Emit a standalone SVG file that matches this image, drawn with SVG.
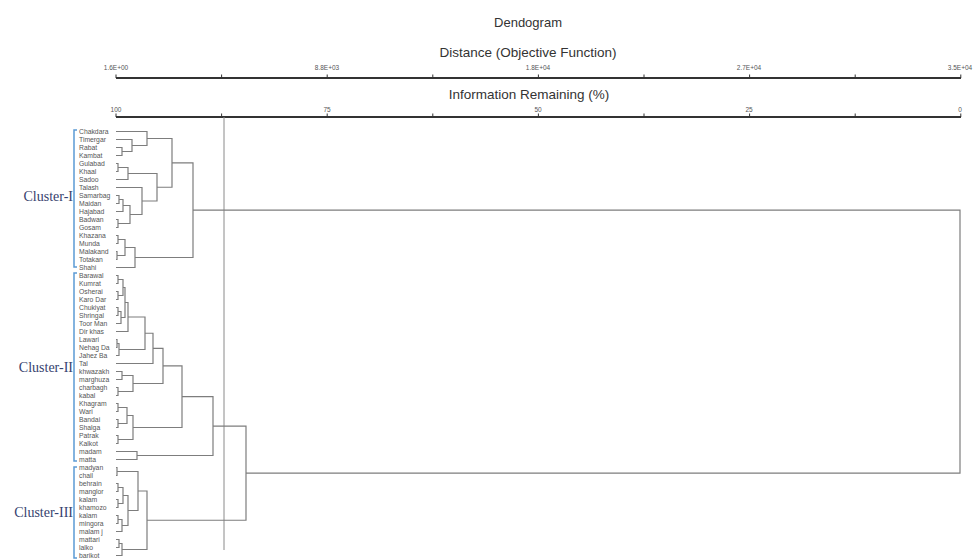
<svg xmlns="http://www.w3.org/2000/svg" width="978" height="560" viewBox="0 0 978 560">
<style>
.bg{fill:#fff}
.tt{font-family:"Liberation Sans",Arial,sans-serif;fill:#333;text-anchor:middle}
.tk{font-family:"Liberation Sans",Arial,sans-serif;font-size:6.5px;fill:#555;text-anchor:middle}
.lf{font-family:"Liberation Sans",Arial,sans-serif;font-size:6.8px;fill:#555}
.cn{fill:none;stroke:#7d7d7d;stroke-width:1.2}
.ax{fill:none;stroke:#333;stroke-width:2}
.tc{fill:none;stroke:#333;stroke-width:1}
.cut{fill:none;stroke:#8a8a8a;stroke-width:1}
.cl{font-family:"Liberation Serif","Times New Roman",serif;font-size:14px;fill:#36426e;text-anchor:end}
.br{fill:none;stroke:#5b9bd5;stroke-width:1.5}
</style>
<rect class="bg" x="0" y="0" width="978" height="560"/>
<g id="titles">
<text class="tt" x="528" y="27" font-size="13">Dendogram</text>
<text class="tt" x="528" y="57" font-size="13.5">Distance (Objective Function)</text>
<text class="tt" x="529" y="99" font-size="13.5">Information Remaining (%)</text>
</g>
<g id="axis-distance">
<path class="ax" d="M116 78 H961"/>
<path class="tc" d="M116 78V74.5M221.6 78V74.5M327.2 78V74.5M432.8 78V74.5M538.4 78V74.5M644 78V74.5M749.6 78V74.5M855.2 78V74.5M960.8 78V74.5"/>
<text class="tk" x="116" y="70">1.6E+00</text>
<text class="tk" x="327" y="70">8.8E+03</text>
<text class="tk" x="538" y="70">1.8E+04</text>
<text class="tk" x="749" y="70">2.7E+04</text>
<text class="tk" x="960" y="70">3.5E+04</text>
</g>
<g id="axis-info">
<path class="ax" d="M116 117 H961"/>
<path class="tc" d="M116 117V113.5M221.6 117V113.5M327.2 117V113.5M432.8 117V113.5M538.4 117V113.5M644 117V113.5M749.6 117V113.5M855.2 117V113.5M960.8 117V113.5"/>
<text class="tk" x="116" y="112">100</text>
<text class="tk" x="327" y="112">75</text>
<text class="tk" x="538" y="112">50</text>
<text class="tk" x="749" y="112">25</text>
<text class="tk" x="960" y="112">0</text>
</g>
<g id="cut-line"><path class="cut" d="M224 117 V550"/></g>
<g id="clusters">
<path class="br" d="M77 130 H74 V267 H77"/>
<path class="br" d="M77 273 H74 V461 H77"/>
<path class="br" d="M77 467 H74 V558 H77"/>
<text class="cl" x="73" y="201">Cluster-I</text>
<text class="cl" x="73" y="372">Cluster-II</text>
<text class="cl" x="73" y="517">Cluster-III</text>
</g>
<g id="leaves">
<g id="n0"><text class="lf" x="79" y="133.8">Chakdara</text></g>
<g id="n1"><text class="lf" x="79" y="141.8">Timergar</text></g>
<g id="n2"><text class="lf" x="79" y="149.8">Rabat</text></g>
<g id="n3"><text class="lf" x="79" y="157.8">Kambat</text></g>
<g id="n4"><text class="lf" x="79" y="165.8">Gulabad</text></g>
<g id="n5"><text class="lf" x="79" y="173.8">Khaal</text></g>
<g id="n6"><text class="lf" x="79" y="181.8">Sadoo</text></g>
<g id="n7"><text class="lf" x="79" y="189.8">Talash</text></g>
<g id="n8"><text class="lf" x="79" y="197.8">Samarbag</text></g>
<g id="n9"><text class="lf" x="79" y="205.8">Maidan</text></g>
<g id="n10"><text class="lf" x="79" y="213.8">Hajabad</text></g>
<g id="n11"><text class="lf" x="79" y="221.8">Badwan</text></g>
<g id="n12"><text class="lf" x="79" y="229.8">Gosam</text></g>
<g id="n13"><text class="lf" x="79" y="237.8">Khazana</text></g>
<g id="n14"><text class="lf" x="79" y="245.8">Munda</text></g>
<g id="n15"><text class="lf" x="79" y="253.8">Malakand</text></g>
<g id="n16"><text class="lf" x="79" y="261.8">Totakan</text></g>
<g id="n17"><text class="lf" x="79" y="269.8">Shahi</text></g>
<g id="n18"><text class="lf" x="79" y="277.8">Barawal</text></g>
<g id="n19"><text class="lf" x="79" y="285.8">Kumrat</text></g>
<g id="n20"><text class="lf" x="79" y="293.8">Osherai</text></g>
<g id="n21"><text class="lf" x="79" y="301.8">Karo Dar</text></g>
<g id="n22"><text class="lf" x="79" y="309.8">Chukiyat</text></g>
<g id="n23"><text class="lf" x="79" y="317.8">Shringal</text></g>
<g id="n24"><text class="lf" x="79" y="325.8">Toor Man</text></g>
<g id="n25"><text class="lf" x="79" y="333.8">Dir khas</text></g>
<g id="n26"><text class="lf" x="79" y="341.8">Lawari</text></g>
<g id="n27"><text class="lf" x="79" y="349.8">Nehag Da</text></g>
<g id="n28"><text class="lf" x="79" y="357.8">Jahez Ba</text></g>
<g id="n29"><text class="lf" x="79" y="365.8">Tal</text></g>
<g id="n30"><text class="lf" x="79" y="373.8">khwazakh</text></g>
<g id="n31"><text class="lf" x="79" y="381.8">marghuza</text></g>
<g id="n32"><text class="lf" x="79" y="389.8">charbagh</text></g>
<g id="n33"><text class="lf" x="79" y="397.8">kabal</text></g>
<g id="n34"><text class="lf" x="79" y="405.8">Khagram</text></g>
<g id="n35"><text class="lf" x="79" y="413.8">Wari</text></g>
<g id="n36"><text class="lf" x="79" y="421.8">Bandai</text></g>
<g id="n37"><text class="lf" x="79" y="429.8">Shalga</text></g>
<g id="n38"><text class="lf" x="79" y="437.8">Patrak</text></g>
<g id="n39"><text class="lf" x="79" y="445.8">Kalkot</text></g>
<g id="n40"><text class="lf" x="79" y="453.8">madam</text></g>
<g id="n41"><text class="lf" x="79" y="461.8">matta</text></g>
<g id="n42"><text class="lf" x="79" y="469.8">madyan</text></g>
<g id="n43"><text class="lf" x="79" y="477.8">chail</text></g>
<g id="n44"><text class="lf" x="79" y="485.8">behrain</text></g>
<g id="n45"><text class="lf" x="79" y="493.8">manglor</text></g>
<g id="n46"><text class="lf" x="79" y="501.8">kalam</text></g>
<g id="n47"><text class="lf" x="79" y="509.8">khamozo</text></g>
<g id="n48"><text class="lf" x="79" y="517.8">kalam</text></g>
<g id="n49"><text class="lf" x="79" y="525.8">mingora</text></g>
<g id="n50"><text class="lf" x="79" y="533.8">malam j</text></g>
<g id="n51"><text class="lf" x="79" y="541.8">mattari</text></g>
<g id="n52"><text class="lf" x="79" y="549.8">lalko</text></g>
<g id="n53"><text class="lf" x="79" y="557.8">barikot</text></g>
</g>
<g id="connectors" class="cn">
<path d="M116 147.5H122V155.5H116"/>
<path d="M116 139.5H132V151.5H122"/>
<path d="M116 131.5H147V145.5H132"/>
<path d="M116 163.5H118V171.5H116"/>
<path d="M118 167.5H128V179.5H116"/>
<path d="M116 195.5H119V203.5H116"/>
<path d="M119 199.5H123V211.5H116"/>
<path d="M116 219.5H118V227.5H116"/>
<path d="M123 205.5H130V223.5H118"/>
<path d="M116 187.5H142V214.5H130"/>
<path d="M128 173.5H157V201H142"/>
<path d="M147 138.5H172V187.25H157"/>
<path d="M116 235.5H118V243.5H116"/>
<path d="M116 251.5H117V259.5H116"/>
<path d="M118 239.5H125V255.5H117"/>
<path d="M125 247.5H135V267.5H116"/>
<path d="M172 162.9H193V257.5H135"/>
<path d="M116 275.5H118V283.5H116"/>
<path d="M116 291.5H118V299.5H116"/>
<path d="M118 279.5H123V295.5H118"/>
<path d="M116 307.5H118V315.5H116"/>
<path d="M118 311.5H121V323.5H116"/>
<path d="M123 287.5H125V317.5H121"/>
<path d="M125 302.5H128V331.5H116"/>
<path d="M116 339.5H117V347.5H116"/>
<path d="M117 343.5H119V355.5H116"/>
<path d="M128 317H145V349.5H119"/>
<path d="M145 333.25H153V363.5H116"/>
<path d="M116 371.5H122V379.5H116"/>
<path d="M116 387.5H118V395.5H116"/>
<path d="M122 375.5H133V391.5H118"/>
<path d="M153 348.4H163V383.5H133"/>
<path d="M116 403.5H118V411.5H116"/>
<path d="M116 419.5H118V427.5H116"/>
<path d="M118 407.5H127V423.5H118"/>
<path d="M116 435.5H118V443.5H116"/>
<path d="M127 415.5H133V439.5H118"/>
<path d="M163 365.9H182V427.5H133"/>
<path d="M116 451.5H137V459.5H116"/>
<path d="M182 396.7H213V455.5H137"/>
<path d="M116 467.5H117V475.5H116"/>
<path d="M116 483.5H118V491.5H116"/>
<path d="M116 499.5H118V507.5H116"/>
<path d="M118 487.5H123V503.5H118"/>
<path d="M116 515.5H118V523.5H116"/>
<path d="M118 519.5H122V531.5H116"/>
<path d="M123 495.5H128V525.5H122"/>
<path d="M117 471.5H138V510.5H128"/>
<path d="M116 539.5H119V547.5H116"/>
<path d="M119 543.5H122V555.5H116"/>
<path d="M138 491H147V549.5H122"/>
<path d="M213 426.1H246V520.25H147"/>
<path d="M193 210.2H960V473.2H246"/>
</g>
</svg>
